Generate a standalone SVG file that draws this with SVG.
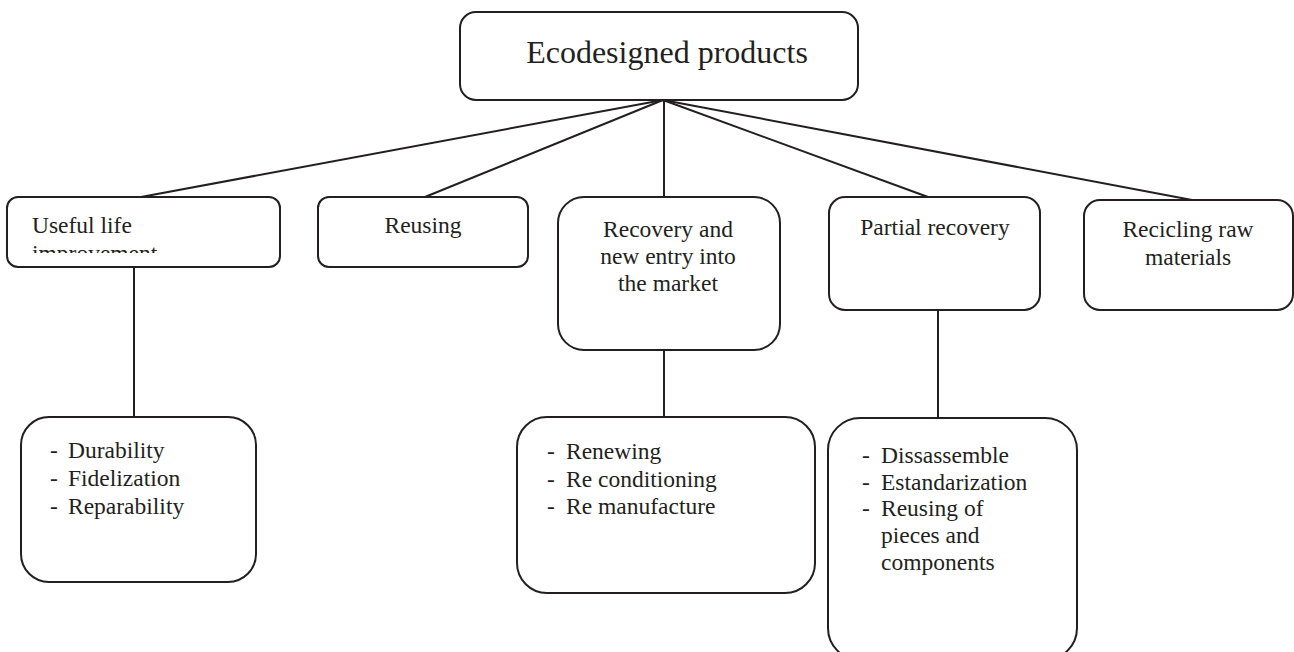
<svg xmlns="http://www.w3.org/2000/svg" width="1294" height="652" viewBox="0 0 1294 652">
<style>
.box{fill:#ffffff;stroke:#231f20;stroke-width:2}
.line{stroke:#231f20;stroke-width:2;fill:none}
text{font-family:"Liberation Serif","Times New Roman",serif;fill:#231f20;font-size:23.5px}
.c{text-anchor:middle}
.title{font-size:32px}
</style>
<defs>
<clipPath id="clipUseful"><rect x="0" y="190" width="300" height="63"/></clipPath>
</defs>
<rect width="1294" height="652" fill="#ffffff"/>
<g id="connectors">
<line class="line" x1="663" y1="100" x2="141" y2="197"/>
<line class="line" x1="663" y1="100" x2="425" y2="197"/>
<line class="line" x1="664" y1="100" x2="664" y2="197"/>
<line class="line" x1="663" y1="100" x2="928" y2="197"/>
<line class="line" x1="663" y1="100" x2="1192" y2="200"/>
<line class="line" x1="134" y1="267" x2="134" y2="417"/>
<line class="line" x1="664" y1="350" x2="664" y2="417"/>
<line class="line" x1="938" y1="310" x2="938" y2="418"/>
</g>
<g id="ecodesigned">
<rect class="box" x="460" y="12" width="398" height="88" rx="16"/>
<text class="c title" x="667" y="63">Ecodesigned products</text>
</g>
<g id="useful-life">
<rect class="box" x="7" y="197" width="273" height="70" rx="11"/>
<g clip-path="url(#clipUseful)">
<text x="32" y="233">Useful life</text>
<text x="32" y="261">improvement</text>
</g>
</g>
<g id="reusing">
<rect class="box" x="318" y="197" width="210" height="70" rx="11"/>
<text class="c" x="423" y="233">Reusing</text>
</g>
<g id="recovery">
<rect class="box" x="558" y="197" width="222" height="153" rx="26"/>
<text class="c" x="668" y="237">Recovery and</text>
<text class="c" x="668" y="264">new entry into</text>
<text class="c" x="668" y="291">the market</text>
</g>
<g id="partial-recovery">
<rect class="box" x="829" y="197" width="211" height="113" rx="16"/>
<text class="c" x="935" y="235">Partial recovery</text>
</g>
<g id="recicling">
<rect class="box" x="1084" y="200" width="209" height="110" rx="16"/>
<text class="c" x="1188" y="237">Recicling raw</text>
<text class="c" x="1188" y="265">materials</text>
</g>
<g id="useful-details">
<rect class="box" x="21" y="417" width="235" height="165" rx="28"/>
<text x="50" y="458">-</text><text x="68" y="458">Durability</text>
<text x="50" y="486">-</text><text x="68" y="486">Fidelization</text>
<text x="50" y="514">-</text><text x="68" y="514">Reparability</text>
</g>
<g id="recovery-details">
<rect class="box" x="517" y="417" width="298" height="176" rx="30"/>
<text x="547" y="459">-</text><text x="566" y="459">Renewing</text>
<text x="547" y="487">-</text><text x="566" y="487">Re conditioning</text>
<text x="547" y="514">-</text><text x="566" y="514">Re manufacture</text>
</g>
<g id="partial-details">
<rect class="box" x="828" y="418" width="249" height="242" rx="32"/>
<text x="862" y="463">-</text><text x="881" y="463">Dissassemble</text>
<text x="862" y="490">-</text><text x="881" y="490">Estandarization</text>
<text x="862" y="516">-</text><text x="881" y="516">Reusing of</text>
<text x="881" y="543">pieces and</text>
<text x="881" y="570">components</text>
</g>
</svg>
